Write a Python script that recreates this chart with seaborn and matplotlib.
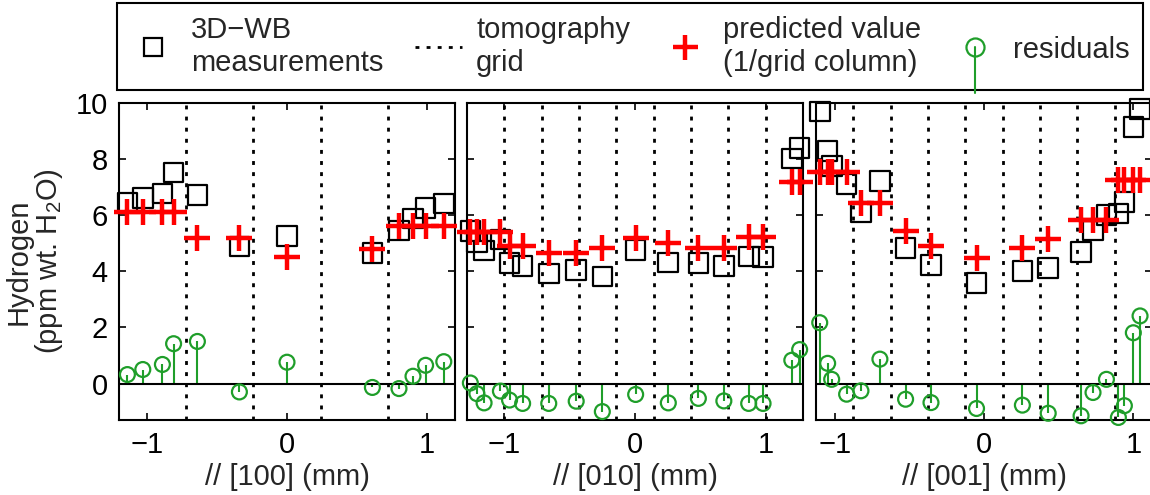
import matplotlib
matplotlib.use("Agg")
import matplotlib.pyplot as plt
from matplotlib.lines import Line2D
from matplotlib.legend_handler import HandlerBase
import seaborn as sns

# ---------------- data ----------------
# Panel 1: // [100]
x_100 = [-1.14, -1.03, -0.89, -0.81, -0.64, -0.34, 0.00, 0.61, 0.80, 0.90, 0.99, 1.12]
meas_100 = [6.45, 6.62, 6.78, 7.52, 6.72, 4.88, 5.27, 4.66, 5.45, 5.88, 6.26, 6.42]
pred_100 = [6.10, 6.10, 6.10, 6.10, 5.20, 5.20, 4.50, 4.80, 5.62, 5.62, 5.62, 5.62]
res_100 = [0.32, 0.50, 0.68, 1.42, 1.50, -0.30, 0.76, -0.14, -0.18, 0.26, 0.65, 0.78]
grid_100 = [-0.72, -0.24, 0.24, 0.72]

# Panel 2: // [010]
x_010 = [-1.26, -1.21, -1.155, -1.03, -0.96, -0.86, -0.66, -0.45, -0.25, 0.005,
         0.255, 0.485, 0.68, 0.87, 0.98, 1.20, 1.26]
meas_010 = [5.44, 5.04, 4.74, 5.13, 4.29, 4.19, 3.92, 4.04, 3.81, 4.76,
            4.31, 4.30, 4.20, 4.53, 4.52, 8.02, 8.40]
pred_010 = [5.40, 5.40, 5.40, 5.40, 4.89, 4.89, 4.67, 4.67, 4.83, 5.18,
            5.00, 4.83, 4.83, 5.24, 5.24, 7.20, 7.20]
res_010 = [0.02, -0.36, -0.69, -0.27, -0.59, -0.71, -0.71, -0.63, -1.00, -0.39,
           -0.69, -0.53, -0.62, -0.71, -0.71, 0.83, 1.21]
grid_010 = [-1.0, -0.714, -0.429, -0.143, 0.143, 0.429, 0.714, 1.0]

# Panel 3: // [001]
x_001 = [-1.10, -1.047, -1.02, -0.92, -0.824, -0.697, -0.525, -0.355, -0.05,
         0.257, 0.43, 0.65, 0.73, 0.82, 0.90, 0.94, 1.00, 1.045]
meas_001 = [9.70, 8.30, 7.75, 7.12, 6.12, 7.22, 4.82, 4.22, 3.58,
            4.02, 4.11, 4.68, 5.45, 6.00, 6.06, 6.46, 9.15, 9.78]
pred_001 = [7.55, 7.55, 7.55, 7.55, 6.43, 6.43, 5.42, 4.91, 4.48,
            4.83, 5.16, 5.84, 5.84, 5.84, 7.26, 7.26, 7.26, 7.26]
res_001 = [2.17, 0.72, 0.15, -0.38, -0.26, 0.87, -0.56, -0.68, -0.89,
           -0.77, -1.06, -1.15, -0.32, 0.15, -1.21, -0.79, 1.81, 2.41]
grid_001 = [-0.875, -0.625, -0.375, -0.125, 0.125, 0.375, 0.625, 0.875]

xlabels = ["// [100] (mm)", "// [010] (mm)", "// [001] (mm)"]
xlims = [(-1.2, 1.2), (-1.2857, 1.2857), (-1.125, 1.125)]
legend_labels = ["3D\u2212WB\nmeasurements", "tomography\ngrid",
                 "predicted value\n(1/grid column)", "residuals"]

# ---------------- style ----------------
sns.set_theme(style="white")
plt.rcParams["font.family"] = ["Liberation Sans", "DejaVu Sans"]
plt.rcParams["mathtext.fontset"] = "custom"
plt.rcParams["mathtext.rm"] = "Liberation Sans"
plt.rcParams["mathtext.it"] = "Liberation Sans:italic"
plt.rcParams["axes.unicode_minus"] = True

GREEN = "#1f9e2a"
FS = 21
DOT = (0, (1.4, 2.6))

fig = plt.figure(figsize=(11.5, 4.95), dpi=100)
W, H = 1150.0, 495.0
lefts = [119, 467, 816]
panels = [(x_100, meas_100, pred_100, res_100, grid_100),
          (x_010, meas_010, pred_010, res_010, grid_010),
          (x_001, meas_001, pred_001, res_001, grid_001)]

axes = []
for i, (xs, ms, ps, rs, gs) in enumerate(panels):
    ax = fig.add_axes([lefts[i] / W, 1 - 420 / H, 336 / W, 317 / H])
    axes.append(ax)
    for g in gs:
        ax.axvline(g, color="black", lw=2.0, ls=DOT, zorder=1)
    sns.scatterplot(x=xs, y=ms, ax=ax, marker="s", s=200, facecolor="none",
                    edgecolor="black", linewidth=1.6, clip_on=False, zorder=3)
    sns.scatterplot(x=xs, y=ps, ax=ax, marker="+", s=340, color="red",
                    linewidth=3.2, clip_on=False, zorder=4)
    ax.vlines(xs, 0, rs, color=GREEN, lw=1.5, zorder=5)
    ax.axhline(0, color="black", lw=1.5, zorder=5)
    sns.scatterplot(x=xs, y=rs, ax=ax, marker="o", s=115, facecolor="none",
                    edgecolor=GREEN, linewidth=1.6, clip_on=False, zorder=6)
    ax.set_xlim(*xlims[i])
    ax.set_ylim(-1.3, 10)
    ax.set_xticks([-1, 0, 1])
    ax.set_yticks([0, 2, 4, 6, 8, 10])
    ax.tick_params(direction="in", length=5, width=1.2, top=True, right=True,
                   bottom=True, left=True, labelsize=FS, colors="black", pad=8)
    for sp in ax.spines.values():
        sp.set_linewidth(1.5)
        sp.set_color("black")
    ax.set_xlabel(xlabels[i], fontsize=FS, labelpad=3)
    if i > 0:
        ax.set_yticklabels([])
    ax.set_facecolor("white")

axes[0].set_ylabel("Hydrogen\n(ppm wt. H$_2$O)", fontsize=FS, labelpad=8,
                   linespacing=1.0)


class StemHandler(HandlerBase):
    def create_artists(self, legend, orig_handle, xdescent, ydescent, width,
                       height, fontsize, trans):
        cx = width / 2 - xdescent
        cy = height / 2 - ydescent
        stem = Line2D([cx, cx], [cy, cy - 33], color=GREEN, lw=1.5,
                      transform=trans)
        mk = Line2D([cx], [cy], marker="o", ms=13, mfc="none", mec=GREEN,
                    mew=1.6, ls="none", transform=trans)
        return [stem, mk]


h_sq = Line2D([], [], marker="s", ls="none", mfc="none", mec="black", ms=13, mew=1.6)
h_grid = Line2D([], [], ls=DOT, color="black", lw=2.0)
h_plus = Line2D([], [], marker="+", ls="none", color="red", ms=18, mew=3.2)
h_res = Line2D([], [], marker="o", ls="none", color=GREEN)

leg = fig.legend([h_sq, h_grid, h_plus, h_res], legend_labels,
                 loc="lower left", bbox_to_anchor=(117 / W, 1 - 90 / H, 1026 / W, 85 / H),
                 mode="expand", ncol=4, frameon=True, fancybox=False,
                 edgecolor="black", framealpha=1, borderaxespad=0,
                 handlelength=1.6, handletextpad=0.5, fontsize=FS,
                 borderpad=0.45, handler_map={h_res: StemHandler()})
leg.get_frame().set_linewidth(1.5)

fig.savefig("out.png", dpi=100)
